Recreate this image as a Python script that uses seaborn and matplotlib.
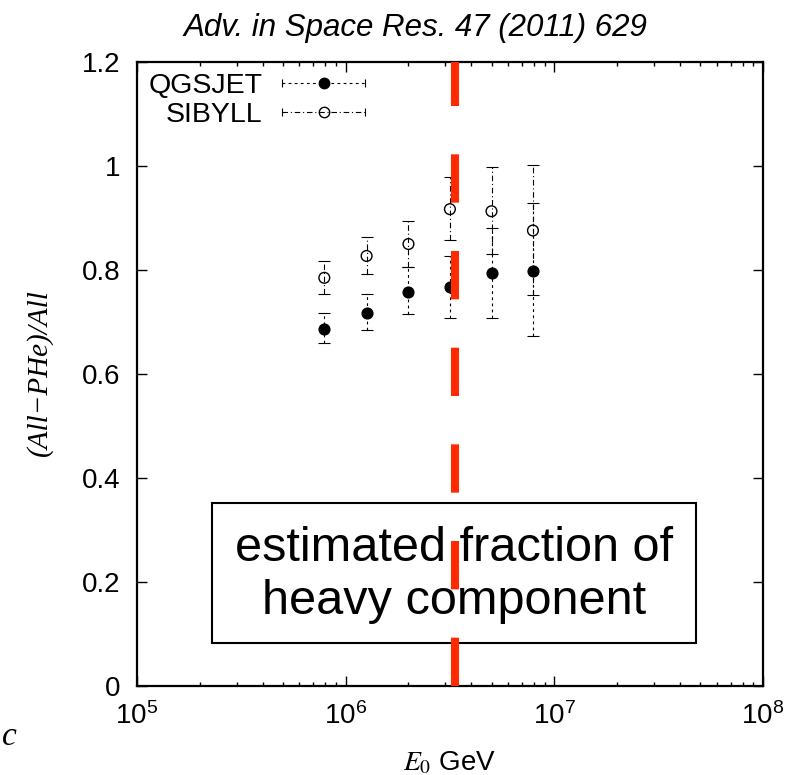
import numpy as np
import matplotlib
matplotlib.use("Agg")
import matplotlib.pyplot as plt
import seaborn as sns
from matplotlib.lines import Line2D
from matplotlib.patches import Rectangle
from matplotlib.legend_handler import HandlerBase
from matplotlib.ticker import LogLocator, FixedLocator, FuncFormatter

# Primary energy bins (GeV)
energy = [7.9e5, 1.26e6, 2.0e6, 3.16e6, 5.0e6, 7.9e6]

# QGSJET: fraction and error-bar limits
qgs_val = [0.686, 0.718, 0.758, 0.767, 0.794, 0.799]
qgs_hi = [0.718, 0.754, 0.805, 0.827, 0.880, 0.928]
qgs_lo = [0.659, 0.685, 0.715, 0.708, 0.708, 0.673]

# SIBYLL: fraction and error-bar limits
sib_val = [0.785, 0.827, 0.850, 0.917, 0.913, 0.876]
sib_hi = [0.817, 0.863, 0.895, 0.979, 0.998, 1.001]
sib_lo = [0.754, 0.792, 0.805, 0.858, 0.830, 0.752]

knee_energy = 3.35e6
y_ticks = [0, 0.2, 0.4, 0.6, 0.8, 1.0, 1.2]
y_tick_labels = ["0", "0.2", "0.4", "0.6", "0.8", "1", "1.2"]
x_ticks = [1e5, 1e6, 1e7, 1e8]

sns.set_style("ticks")
plt.rcParams["font.family"] = ["Liberation Sans", "DejaVu Sans"]
plt.rcParams["mathtext.fontset"] = "stix"
plt.rcParams["text.color"] = "black"

fig = plt.figure(figsize=(7.97, 7.75), dpi=100)
ax = fig.add_axes([0.1719, 0.1148, 0.9573 - 0.1719, 0.92 - 0.1148])

RED = "#ff2a00"
QGS_LS = (0, (2.5, 3.0))
SIB_LS = (0, (5.0, 2.5, 1.0, 2.5))


def draw_series(vals, hi, lo, ls, filled):
    v = np.asarray(vals)
    err = np.vstack([v - np.asarray(lo), np.asarray(hi) - v])
    cont = ax.errorbar(energy, v, yerr=err, fmt="none", ecolor="black",
                       elinewidth=0.8, capsize=4, capthick=0.8, zorder=2)
    for col in cont[2]:
        col.set_linestyle(ls)
    sns.scatterplot(x=energy, y=v, ax=ax, marker="o", s=60,
                    facecolor="black" if filled else "none",
                    edgecolor="black", linewidth=1.0, zorder=3, legend=False)


draw_series(qgs_val, qgs_hi, qgs_lo, QGS_LS, True)
draw_series(sib_val, sib_hi, sib_lo, SIB_LS, False)

# Dashed marker of the knee energy
ax.axvline(knee_energy, color=RED, lw=5.8, dashes=(6, 6), zorder=6)

ax.set_xscale("log")
ax.set_xlim(1e5, 1e8)
ax.set_ylim(0, 1.2)
ax.yaxis.set_major_locator(FixedLocator(y_ticks))
ax.set_yticklabels(y_tick_labels)
ax.xaxis.set_major_locator(FixedLocator(x_ticks))
ax.xaxis.set_minor_locator(LogLocator(base=10, subs=np.arange(2, 10)))
ax.xaxis.set_major_formatter(
    FuncFormatter(lambda v, p: r"$\mathdefault{10^{%d}}$" % round(np.log10(v))))
ax.tick_params(which="both", direction="in", top=True, right=True,
               labelsize=20, colors="black", width=1.0)
ax.tick_params(which="major", length=7, pad=12)
ax.tick_params(which="minor", length=3)
ax.tick_params(axis="y", which="minor", left=False, right=False)
for sp in ax.spines.values():
    sp.set_linewidth(1.6)
    sp.set_color("black")

# Annotation box
ax.add_patch(Rectangle((0.1198, 0.0689), 0.893 - 0.1198, 0.293 - 0.0689,
                       transform=ax.transAxes, facecolor="white",
                       edgecolor="black", lw=1.5, zorder=4))
ax.text(0.506, 0.178, "estimated fraction of\nheavy component",
        transform=ax.transAxes, ha="center", va="center", fontsize=35,
        linespacing=1.22, zorder=5, color="black")


class ErrorbarKey(HandlerBase):
    def __init__(self, ls, filled):
        super().__init__()
        self.ls = ls
        self.filled = filled

    def create_artists(self, legend, orig_handle, xdescent, ydescent,
                       width, height, fontsize, trans):
        y = height / 2 - ydescent
        x0, x1 = -xdescent, width - xdescent
        bar = Line2D([x0, x1], [y, y], color="black", lw=0.8, ls=self.ls)
        caps = Line2D([x0, x1], [y, y], color="black", ls="none",
                      marker="|", ms=6, mew=0.8)
        dot = Line2D([(x0 + x1) / 2], [y], marker="o", ms=7.5, ls="none",
                     mfc="black" if self.filled else "none", mec="black",
                     mew=1.0)
        for a in (bar, caps, dot):
            a.set_transform(trans)
        return [bar, caps, dot]


h_q = Line2D([], [])
h_s = Line2D([], [])
leg = ax.legend([h_q, h_s], ["QGSJET", "SIBYLL"],
                handler_map={h_q: ErrorbarKey(QGS_LS, True),
                             h_s: ErrorbarKey(SIB_LS, False)},
                loc="upper left", bbox_to_anchor=(0.0, 1.0), frameon=False,
                markerfirst=False, fontsize=20.5, handlelength=2.9,
                handletextpad=0.7, labelspacing=0.1, borderaxespad=0.1,
                borderpad=0.3)
for t in leg.get_texts():
    t.set_color("black")

fig.text(0.5207, 0.9639, "Adv. in Space Res. 47 (2011) 629", ha="center",
         va="center", fontsize=22.5, style="italic", color="black")
fig.text(0.05, 0.5187, "(All\u2212PHe)/All", rotation=90, ha="center",
         va="center", fontsize=21, style="italic",
         family=["Liberation Serif", "DejaVu Serif"], color="black")
fig.text(0.564, 0.0065, r"$E_0$ GeV", ha="center", va="baseline",
         fontsize=20, color="black")
fig.text(0.002, 0.0387, "c", ha="left", va="baseline", fontsize=24,
         style="italic", family=["Liberation Serif", "DejaVu Serif"],
         color="black")

fig.savefig("out.png", dpi=100, facecolor="white")
